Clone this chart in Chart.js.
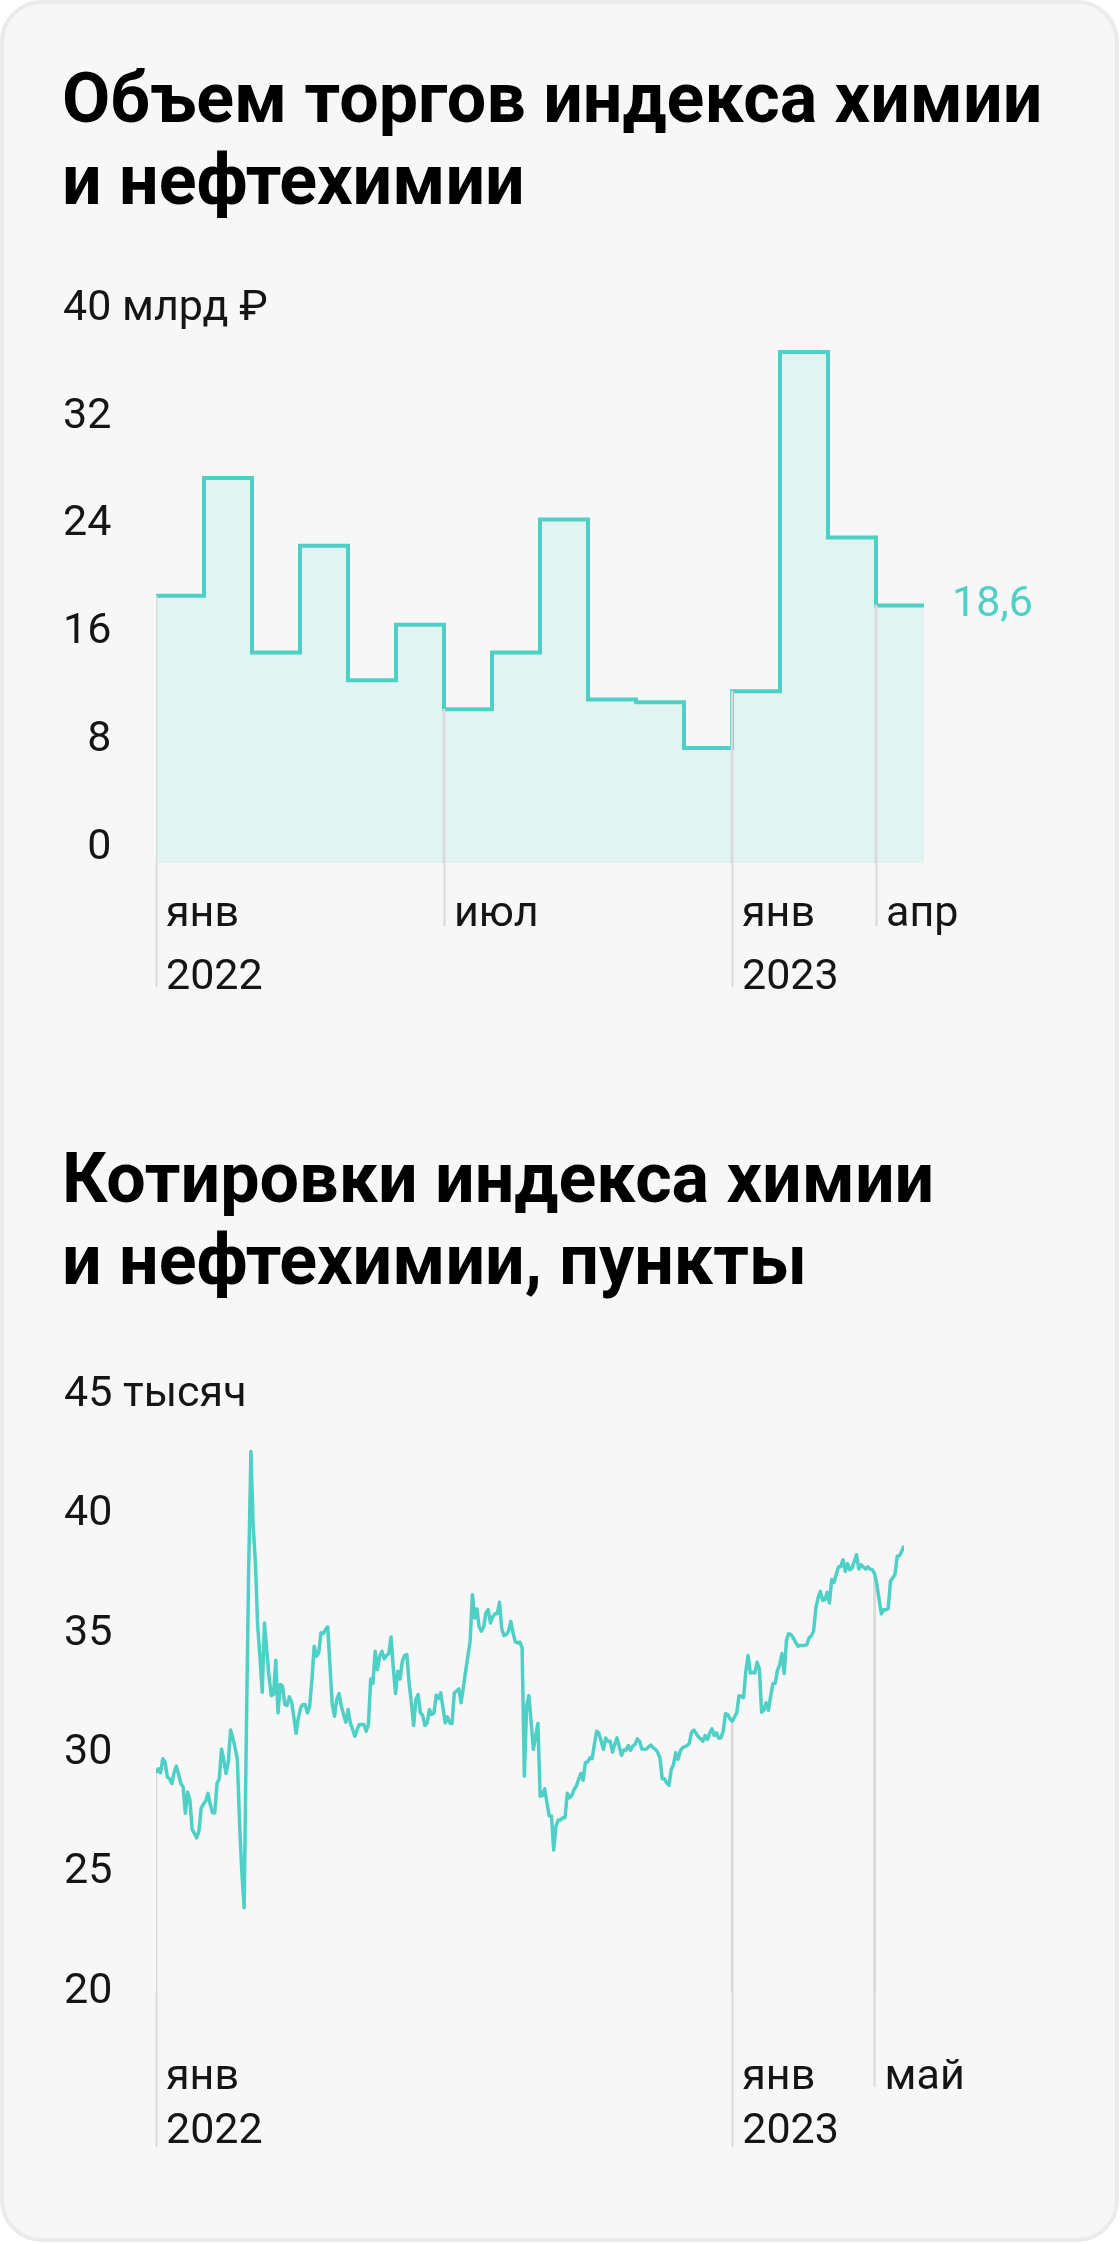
<!DOCTYPE html>
<html lang="ru">
<head>
<meta charset="utf-8">
<title>Индекс химии и нефтехимии</title>
<script src="https://cdn.jsdelivr.net/npm/chart.js@4.4.1/dist/chart.umd.min.js"></script>
<style>
  html, body { margin: 0; padding: 0; background: #fff; }
  body { width: 1120px; height: 2244px; position: relative; overflow: hidden; font-family: Roboto, "Noto Sans", sans-serif; }
  .card { position: absolute; left: 0; top: 0; width: 1119px; height: 2242px; box-sizing: border-box; border: 4px solid #ebebeb; border-radius: 42px; background: #f7f7f7; }
  .title { position: absolute; left: 62px; margin: 0; font-size: 70px; line-height: 82px; font-weight: 700; color: #000; }
  .chart { position: absolute; left: 0; width: 1120px; }
</style>
</head>
<body>
<div class="card"></div>

<h1 class="title" style="top: 57px">Объем торгов индекса химии<br>и нефтехимии</h1>
<div class="chart" style="top: 240px; height: 766px"><canvas id="volumeChart"></canvas></div>

<h1 class="title" style="top: 1137px">Котировки индекса химии<br>и нефтехимии, пункты</h1>
<div class="chart" style="top: 1340px; height: 827px"><canvas id="quotesChart"></canvas></div>

<script>
// Monthly trading volume, bln rub, Jan 2022 .. Apr 2023
const volumeValues = [19.3, 27.8, 15.2, 22.9, 13.2, 17.2, 11.1, 15.2, 24.8, 11.8, 11.6, 8.3, 12.4, 36.9, 23.5, 18.6];
const volumeTickIdx = [0, 6, 12, 15];
const volumeTickLabels = ['янв', 'июл', 'янв', 'апр'];
const volumeYearIdx = [0, 12];
const volumeYearLabels = ['2022', '2023'];
const volumeYTicks = [0, 8, 16, 24, 32, 40];
const volumeYLabels = ['\u20070', '\u20078', '16', '24', '32', '40 млрд ₽'];

// Daily index close, thousand points, Jan 2022 .. May 2023 (trading days)
const quoteValues = [
  29.18, 29.35, 29.18, 29.77, 29.63, 29.01, 28.93, 28.73, 29.18, 29.46,
  29.11, 28.73, 28.59, 27.48, 28.37, 28.04, 26.81, 26.64, 26.45, 26.74,
  27.72, 27.86, 28.00, 28.32, 27.86, 27.51, 27.51, 28.73, 28.93, 30.18,
  29.71, 29.15, 29.63, 30.97, 30.64, 30.23, 29.74, 27.02, 25.00, 23.53,
  30.99, 37.68, 42.63, 39.50, 37.96, 35.31, 34.06, 32.55, 35.45, 34.34,
  33.22, 32.41, 32.46, 33.89, 31.69, 32.88, 32.81, 32.04, 32.00, 32.36,
  32.14, 31.52, 30.83, 31.48, 31.90, 32.04, 32.04, 31.69, 31.97, 33.08,
  34.48, 34.06, 34.20, 35.04, 35.01, 35.18, 35.29, 33.64, 32.04, 31.55,
  32.25, 32.50, 31.97, 31.62, 31.30, 31.83, 31.27, 30.99, 30.71, 30.99,
  31.20, 31.20, 31.20, 30.92, 31.20, 33.11, 32.92, 34.27, 33.50, 34.06,
  34.27, 33.95, 34.09, 34.17, 34.87, 33.57, 32.50, 33.43, 33.11, 33.85,
  34.09, 34.13,
  32.94, 32.11, 31.16, 32.25, 32.46, 31.69, 31.58, 31.16, 31.27, 31.83,
  31.62, 31.69, 32.43, 32.28, 32.53, 31.90, 31.27, 31.52, 31.27, 31.24,
  32.53, 32.60, 32.69, 32.11, 32.74, 33.43, 34.06, 34.69, 36.64, 35.66,
  36.04, 35.29, 35.11, 35.29, 35.87, 36.01, 35.45, 35.71, 35.84, 35.84,
  36.32, 35.20, 34.92, 34.97, 35.11, 35.52, 35.04, 34.66, 34.62, 34.65,
  34.41, 29.04, 31.97, 32.41, 31.30, 30.16, 30.71, 31.24, 28.20, 28.23,
  28.51, 27.93, 27.37, 27.37, 25.95, 26.95, 27.20, 27.20, 27.30, 27.30,
  28.32, 28.13, 28.23, 28.48, 28.62, 28.90, 29.15, 28.87, 29.60, 29.63,
  29.81, 29.77, 30.37, 30.92, 30.83, 30.50, 30.16, 30.64, 30.50, 30.50,
  30.04, 30.37, 30.64, 30.27, 29.91, 30.13, 30.13, 30.32, 30.13, 30.30,
  30.37, 30.60, 30.50, 30.18, 30.16, 30.18, 30.27, 30.34, 30.23,
  30.16, 30.04, 29.81, 28.93, 28.93, 28.76, 28.65, 29.32, 29.53, 30.02,
  29.74, 30.09, 30.23, 30.27, 30.32, 30.41, 30.88, 30.97, 30.83, 30.69,
  30.60, 30.50, 30.74, 30.57, 30.83, 31.02, 30.74, 30.85, 30.64, 30.64,
  30.92, 31.66, 31.62, 31.44, 31.34, 31.52, 31.69, 32.41, 32.39, 32.32,
  33.43, 34.09, 33.36, 33.39, 33.36, 33.81, 33.53, 31.72, 31.80, 32.11,
  31.80, 32.39, 32.92, 32.92, 33.47, 33.71, 34.17, 33.34, 34.76, 35.01,
  34.97, 34.83, 34.65, 34.48, 34.51, 34.51, 34.51, 34.55, 34.83, 34.92,
  35.11, 36.08, 36.50, 36.78, 36.40, 36.43, 36.74, 36.29, 37.27, 37.15,
  37.48, 37.80, 37.82, 38.10, 37.61, 37.94, 37.68, 37.75, 38.03, 38.31,
  37.71, 37.89, 37.80, 37.71, 37.80, 37.71, 37.68, 37.52, 37.06, 36.43,
  35.83, 36.01, 36.01, 36.05, 37.20, 37.34, 37.48, 38.24, 38.27, 38.45,
  38.69
];
const quoteTickIdx = [0, 255, 318];
const quoteTickLabels = ['янв', 'янв', 'май'];
const quoteYearIdx = [0, 255];
const quoteYearLabels = ['2022', '2023'];
const quoteYTicks = [20, 25, 30, 35, 40, 45];
const quoteYLabels = ['20', '25', '30', '35', '40', '45 тысяч'];

const TEAL = '#4fd0c6';
const FILL = '#e1f4f1';
const GRID = '#d9d9d9';
const TEXT = '#151515';
const FONT = { family: 'Roboto', size: 43 };

Chart.defaults.font.family = 'Roboto';
Chart.defaults.color = TEXT;

// labels run past the axis box (next to the marks), so don't clip them to it
function unclip(scale) {
  scale._computeLabelArea = () => undefined;
}

// bottom axis that only shows a few labelled tick marks, text sits next to the mark
function markAxis(max, idx, labels, tickLength, padding, height, weight) {
  return {
    type: 'linear', position: 'bottom', min: 0, max: max, weight: weight, offset: false,
    afterBuildTicks: (scale) => { scale.ticks = idx.map((v) => ({ value: v })); },
    afterFit: (scale) => { scale.height = height; unclip(scale); },
    border: { display: false },
    grid: { drawOnChartArea: false, drawTicks: true, tickLength: tickLength, tickColor: GRID, tickWidth: 2, offset: false },
    ticks: {
      callback: (v, i) => labels[i],
      align: 'start', labelOffset: 10, padding: padding,
      maxRotation: 0, minRotation: 0, autoSkip: false,
      font: FONT, color: TEXT
    }
  };
}

function labelAxis(min, max, values, labels, width) {
  return {
    type: 'linear', position: 'left', min: min, max: max,
    afterBuildTicks: (scale) => { scale.ticks = values.map((v) => ({ value: v })); },
    afterFit: (scale) => { scale.width = width; unclip(scale); },
    border: { display: false },
    grid: { display: false },
    ticks: { callback: (v, i) => labels[i], crossAlign: 'far', padding: 0, font: FONT, color: TEXT }
  };
}

const commonPlugins = { legend: { display: false }, tooltip: { enabled: false } };

// Chart 1: volume, stepped by month
const lastVolume = volumeValues[volumeValues.length - 1];
const volumeSteps = volumeValues.map((v, i) => ({ x: i, y: v }));
volumeSteps.push({ x: volumeValues.length, y: lastVolume }); // right edge of the last month

new Chart(document.getElementById('volumeChart'), {
  data: {
    datasets: [
      {
        type: 'bar',
        data: volumeTickIdx.map((i) => ({ x: i, y: volumeValues[i] })),
        backgroundColor: GRID, barThickness: 2, grouped: false, order: 0
      },
      {
        type: 'line',
        data: volumeSteps,
        stepped: 'before',
        borderColor: TEAL, borderWidth: 4, borderJoinStyle: 'miter',
        backgroundColor: FILL, fill: 'origin',
        pointRadius: 0, order: 1
      }
    ]
  },
  options: {
    responsive: true, maintainAspectRatio: false, animation: false,
    layout: { padding: { left: 63, top: 69, right: 0, bottom: 0 } },
    plugins: commonPlugins,
    scales: {
      x: markAxis(volumeValues.length, volumeTickIdx, volumeTickLabels, 63, -36.8, 63, 1),
      xYear: markAxis(volumeValues.length, volumeYearIdx, volumeYearLabels, 61, -35, 80, 2),
      y: { display: false, min: 0, max: 40 },
      yText: labelAxis(-1.1, 40, volumeYTicks, volumeYLabels, 93),
      yLast: {
        type: 'linear', position: 'right', min: 0, max: 40,
        afterBuildTicks: (scale) => { scale.ticks = [{ value: lastVolume }]; },
        afterFit: (scale) => { scale.width = 196; },
        border: { display: false },
        grid: { display: false },
        ticks: { callback: (v) => String(v).replace('.', ','), padding: 20, font: FONT, color: TEAL }
      }
    }
  }
});

// Chart 2: daily quotes
new Chart(document.getElementById('quotesChart'), {
  data: {
    datasets: [
      {
        type: 'bar',
        data: quoteTickIdx.map((i) => ({ x: i, y: quoteValues[i] })),
        backgroundColor: GRID, barThickness: 2, grouped: false, order: 2
      },
      {
        type: 'line',
        data: quoteValues.map((v, i) => ({ x: i, y: v })),
        borderColor: TEAL, borderWidth: 3.5, borderJoinStyle: 'round',
        fill: false, pointRadius: 0, tension: 0, order: 1
      }
    ]
  },
  options: {
    responsive: true, maintainAspectRatio: false, animation: false,
    layout: { padding: { left: 64, top: 55, right: 216, bottom: 0 } },
    plugins: commonPlugins,
    scales: {
      x: markAxis(quoteValues.length - 1, quoteTickIdx, quoteTickLabels, 95, -34.8, 95, 1),
      xYear: markAxis(quoteValues.length - 1, quoteYearIdx, quoteYearLabels, 60, -40.8, 80, 2),
      y: labelAxis(20, 45, quoteYTicks, quoteYLabels, 92)
    }
  }
});
</script>
</body>
</html>
